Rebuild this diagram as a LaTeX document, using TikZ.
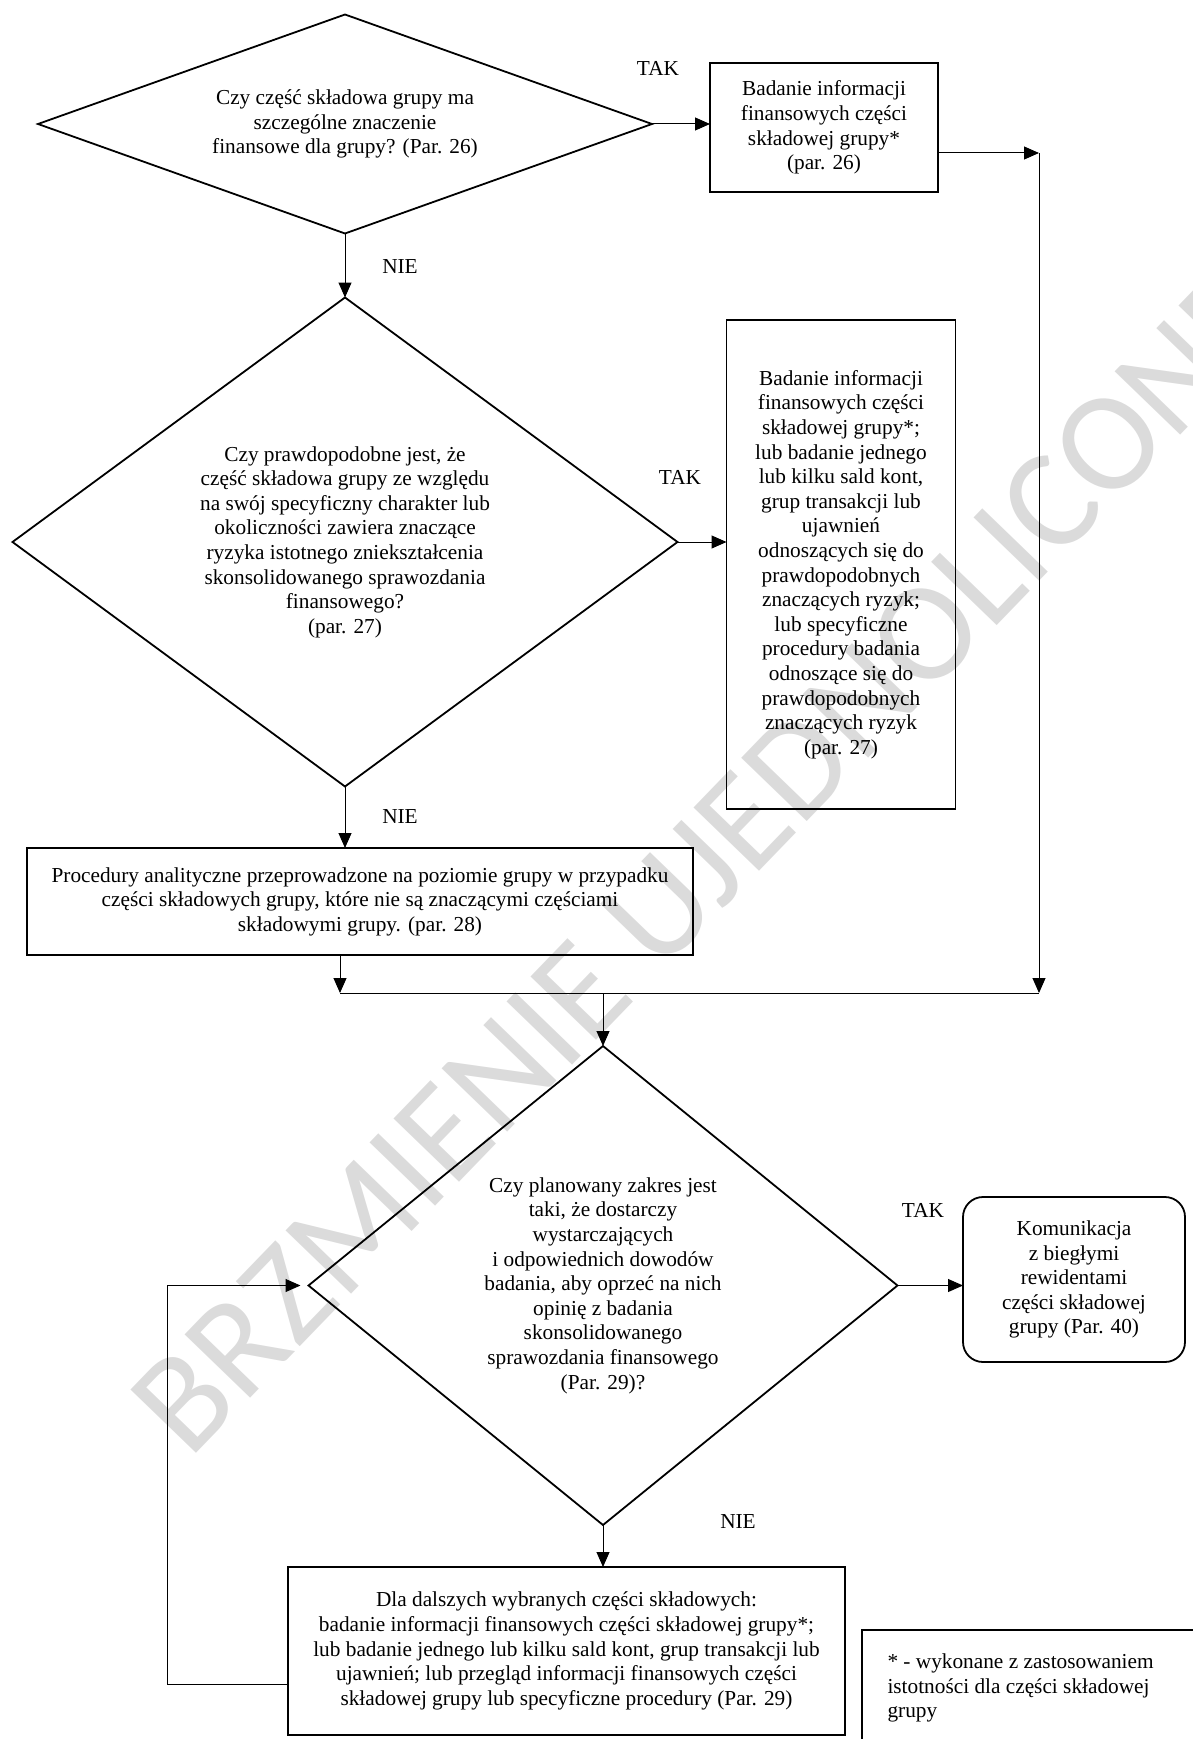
\documentclass[tikz,border=0pt]{standalone}
\usepackage{fontspec}
\setmainfont{Liberation Serif}
\newfontfamily\wmfont{Carlito}
\usetikzlibrary{shapes.geometric, arrows.meta}

\begin{document}
\begin{tikzpicture}[x=0.5pt, y=-0.5pt,
        font=\fontsize{10.65}{12.3}\selectfont,
        >={Triangle[length=7.5pt,width=6.5pt]}, line width=0.5pt,
        decision/.style={draw, diamond, line width=0.9pt, inner sep=0pt, outer sep=0pt, align=center},
        block/.style={draw, rectangle, line width=0.9pt, inner sep=0pt, outer sep=0pt, align=center},
        answer/.style={inner sep=0pt}]
                    \useasboundingbox (0,0) rectangle (1193,1739);
                    \clip (0,0) rectangle (1193,1739);

                    \node[text=black!14, font=\wmfont\fontsize{71}{78}\selectfont, rotate=46] (w) at (705,862) {BRZMIENIE UJEDNOLICONE};

                    \node[decision, aspect=2.8, minimum width=307pt, minimum height=109.5pt] (a) at (345,124) {Czy część składowa grupy ma\\ szczególne znaczenie\\ finansowe dla grupy? (Par. 26)};
                    \node[block, minimum width=114pt, minimum height=64.5pt] (b) at (824,127.5) {Badanie informacji\\ finansowych części\\ składowej grupy*\\ (par. 26)};
                    \node[decision, aspect=1.36, minimum width=332.5pt, minimum height=244.5pt] (c) at (345,542) {Czy prawdopodobne jest, że\\ część składowa grupy ze względu\\ na swój specyficzny charakter lub\\ okoliczności zawiera znaczące\\ ryzyka istotnego zniekształcenia\\ skonsolidowanego sprawozdania\\ finansowego?\\ (par. 27)};
                    \node[block, minimum width=114.5pt, minimum height=244.5pt] (d) at (841,564.5) {Badanie informacji\\ finansowych części\\ składowej grupy*;\\ lub badanie jednego\\ lub kilku sald kont,\\ grup transakcji lub\\ ujawnień\\ odnoszących się do\\ prawdopodobnych\\ znaczących ryzyk;\\ lub specyficzne\\ procedury badania\\ odnoszące się do\\ prawdopodobnych\\ znaczących ryzyk\\ (par. 27)};
                    \node[block, minimum width=333pt, minimum height=53.5pt] (e) at (360,901.5) {Procedury analityczne przeprowadzone na poziomie grupy w przypadku\\ części składowych grupy, które nie są znaczącymi częściami\\ składowymi grupy. (par. 28)};
                    \node[decision, aspect=1.23, minimum width=294.5pt, minimum height=239.5pt] (f) at (603,1285.5) {Czy planowany zakres jest\\ taki, że dostarczy\\ wystarczających\\ i odpowiednich dowodów\\ badania, aby oprzeć na nich\\ opinię z badania\\ skonsolidowanego\\ sprawozdania finansowego\\ (Par. 29)?};
                    \node[block, rounded corners=10pt, minimum width=111pt, minimum height=82.5pt] (g) at (1074,1279.5) {Komunikacja\\ z biegłymi\\ rewidentami\\ części składowej\\ grupy (Par. 40)};
                    \node[block, minimum width=278.5pt, minimum height=84pt] (h) at (566.5,1651) {Dla dalszych wybranych części składowych:\\ badanie informacji finansowych części składowej grupy*;\\ lub badanie jednego lub kilku sald kont, grup transakcji lub\\ ujawnień; lub przegląd informacji finansowych części\\ składowej grupy lub specyficzne procedury (Par. 29)};
                    \node[block, anchor=north west, minimum width=200pt, minimum height=80pt] (i) at (862,1630) {};
                    \node[anchor=west, align=left, inner sep=0pt] (j) at (887,1688) {* - wykonane z zastosowaniem\\ istotności dla części składowej\\ grupy};

                    \node[answer] (t1) at (658,68) {TAK};
                    \node[answer] (n1) at (400,267) {NIE};
                    \node[answer] (t2) at (680,477) {TAK};
                    \node[answer] (n2) at (400,817) {NIE};
                    \node[answer] (t3) at (923,1210) {TAK};
                    \node[answer] (n3) at (738,1522) {NIE};

                    \coordinate (r) at (1039,153);
                    \coordinate (s) at (1039,993);
                    \coordinate (p) at (340,993);
                    \coordinate (u) at (167,1684);

                    \draw[->] (a.east) -- (a.east -| b.west);
                    \draw[->] (a.south) -- (c.north);
                    \draw[->] (r -| b.east) -- (r);
                    \draw[->] (r) -- (s);
                    \draw[->] (c.east) -- (c.east -| d.west);
                    \draw[->] (c.south) -- (c.south |- e.north);
                    \draw[->] (p |- e.south) -- (p);
                    \draw (p) -- (s);
                    \draw[->] (f.north |- s) -- (f.north);
                    \draw[->] (f.east) -- (f.east -| g.west);
                    \draw[->] (f.south) -- (f.south |- h.north);
                    \draw[->, shorten >=4pt] (u -| h.west) -- (u) |- (f.west);
                \end{tikzpicture}
\end{document}
